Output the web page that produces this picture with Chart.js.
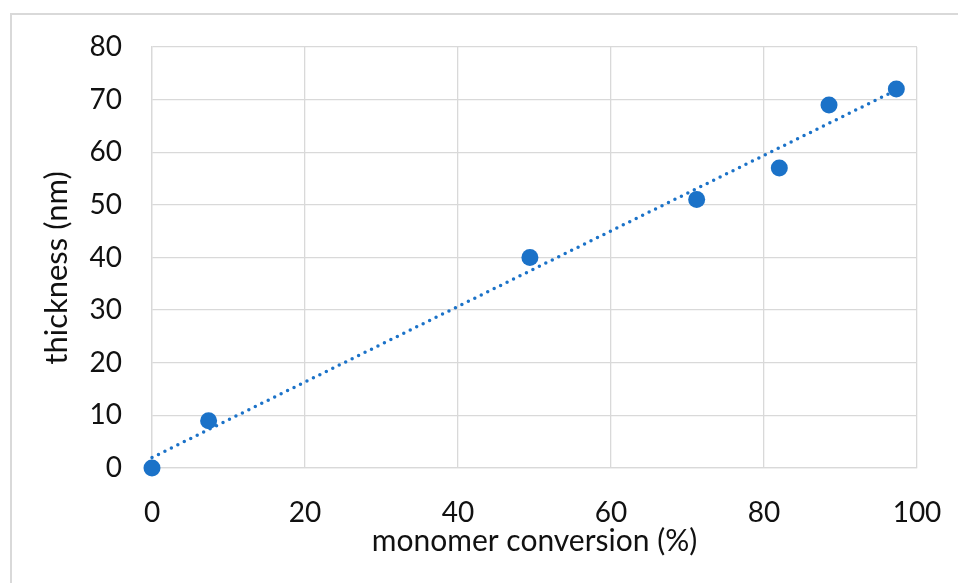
<!DOCTYPE html>
<html lang="en">
<head>
    <meta charset="UTF-8">
    <title>thickness vs monomer conversion</title>
    <script src="https://cdn.jsdelivr.net/npm/chart.js"></script>
    <style>
        html, body {
            margin: 0;
            padding: 0;
            overflow: hidden;
            background: #fff;
        }
        #frame {
            position: absolute;
            left: 10px;
            top: 13px;
            width: 1000px;
            height: 700px;
            border: 2px solid #d9d9d9;
        }
        #chartContainer {
            position: absolute;
            left: 0;
            top: 0;
            width: 958px;
            height: 583px;
        }
    </style>
</head>
<body>
    <div id="frame"></div>
    <div id="chartContainer">
        <canvas id="chartCanvas"></canvas>
    </div>

    <script>
        // data
        const conversion = [0, 7.4, 49.4, 71.2, 82.0, 88.5, 97.3];   // monomer conversion (%)
        const thickness  = [0, 9, 40, 51, 57, 69, 72];               // thickness (nm)
        const xTicks = [0, 20, 40, 60, 80, 100];
        const yTicks = [0, 10, 20, 30, 40, 50, 60, 70, 80];

        const xTitle = "monomer conversion (%)";
        const yTitle = "thickness (nm)";

        const blue = "#1b72c8";
        const gridColor = "#d9d9d9";
        const fontFamily = "Lato, 'Open Sans', sans-serif";

        // linear trendline (least squares), like the spreadsheet one
        const n = conversion.length;
        const mx = conversion.reduce((a, b) => a + b, 0) / n;
        const my = thickness.reduce((a, b) => a + b, 0) / n;
        let sxy = 0, sxx = 0;
        for (let i = 0; i < n; i++) {
            sxy += (conversion[i] - mx) * (thickness[i] - my);
            sxx += (conversion[i] - mx) ** 2;
        }
        const slope = sxy / sxx;
        const intercept = my - slope * mx;
        const xMin = Math.min(...conversion), xMax = Math.max(...conversion);
        const trend = [
            { x: xMin, y: intercept + slope * xMin },
            { x: xMax, y: intercept + slope * xMax }
        ];

        // y axis title drawn by hand so it can sit where the original has it
        const yTitlePlugin = {
            id: "yTitlePlugin",
            afterDraw(chart) {
                const ctx = chart.ctx;
                ctx.save();
                ctx.translate(57, 268);
                ctx.rotate(-Math.PI / 2);
                ctx.font = "31px " + fontFamily;
                ctx.fillStyle = "#111";
                ctx.textAlign = "center";
                ctx.textBaseline = "middle";
                ctx.fillText(yTitle, 0, 0);
                ctx.restore();
            }
        };

        const ctx = document.getElementById("chartCanvas").getContext("2d");
        const chart = new Chart(ctx, {
            type: "scatter",
            data: {
                datasets: [
                    {
                        label: "trend",
                        data: trend,
                        showLine: true,
                        borderColor: blue,
                        borderWidth: 3.5,
                        borderDash: [0, 7.2],
                        borderCapStyle: "round",
                        pointRadius: 0,
                        fill: false,
                        clip: false,
                        order: 2
                    },
                    {
                        label: "thickness",
                        data: conversion.map((x, i) => ({ x, y: thickness[i] })),
                        backgroundColor: blue,
                        borderColor: blue,
                        borderWidth: 0,
                        pointRadius: 8.5,
                        showLine: false,
                        clip: false,
                        order: 1
                    }
                ]
            },
            options: {
                responsive: true,
                maintainAspectRatio: false,
                animation: false,
                layout: { padding: { left: 0, right: 41, top: 47, bottom: 0 } },
                plugins: {
                    legend: { display: false },
                    tooltip: { enabled: false }
                },
                scales: {
                    x: {
                        type: "linear",
                        min: 0,
                        max: 100,
                        afterBuildTicks: s => { s.ticks = xTicks.map(v => ({ value: v })); },
                        afterFit: s => { s.height = 115; s.paddingLeft = 0; s.paddingRight = 0; },
                        grid: { color: gridColor, lineWidth: 1.3, drawTicks: false },
                        border: { color: gridColor, width: 1.3 },
                        ticks: {
                            color: "#111",
                            padding: 28,
                            maxRotation: 0,
                            font: { family: fontFamily, size: 28 }
                        },
                        title: {
                            display: true,
                            text: xTitle,
                            color: "#111",
                            font: { family: fontFamily, size: 30 },
                            padding: { top: 0, bottom: 24 }
                        }
                    },
                    y: {
                        type: "linear",
                        min: 0,
                        max: 80,
                        afterBuildTicks: s => { s.ticks = yTicks.map(v => ({ value: v })); },
                        afterFit: s => { s.width = 152; s.paddingTop = 0; s.paddingBottom = 0; },
                        grid: { color: gridColor, lineWidth: 1.3, drawTicks: false },
                        border: { color: gridColor, width: 1.3 },
                        ticks: {
                            color: "#111",
                            padding: 30,
                            font: { family: fontFamily, size: 28 }
                        }
                    }
                }
            },
            plugins: [yTitlePlugin]
        });
    </script>
</body>
</html>
